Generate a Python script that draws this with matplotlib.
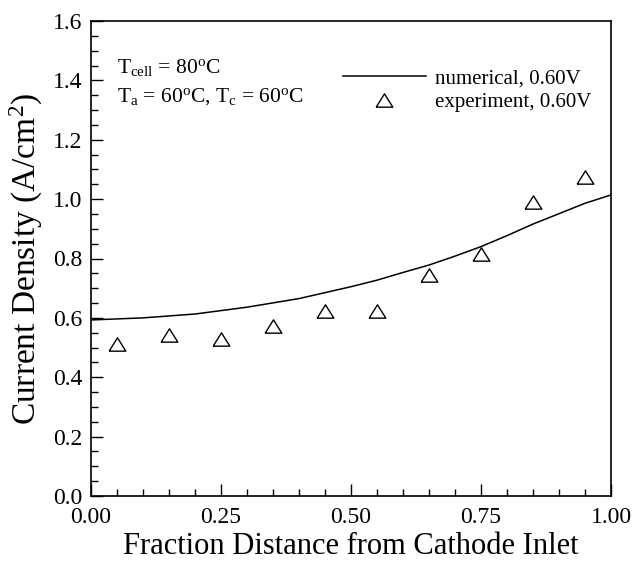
import matplotlib
matplotlib.use("Agg")
import matplotlib.pyplot as plt
from matplotlib.ticker import MultipleLocator

plt.rcParams['font.family'] = ['Liberation Serif', 'DejaVu Serif']
plt.rcParams['mathtext.fontset'] = 'custom'
plt.rcParams['mathtext.rm'] = 'Liberation Serif'
plt.rcParams['mathtext.it'] = 'Liberation Serif:italic'
plt.rcParams['mathtext.bf'] = 'Liberation Serif:bold'

# numerical curve
x_num = [0.0, 0.1, 0.2, 0.3, 0.4, 0.5, 0.55, 0.6, 0.65, 0.7, 0.75, 0.8, 0.85, 0.9, 0.95, 1.0]
y_num = [0.593, 0.600, 0.613, 0.636, 0.665, 0.705, 0.727, 0.753, 0.778, 0.808, 0.840, 0.877, 0.916, 0.951, 0.986, 1.014]
# experiment
x_exp = [0.05, 0.15, 0.25, 0.35, 0.45, 0.55, 0.65, 0.75, 0.85, 0.95]
y_exp = [0.513, 0.543, 0.530, 0.574, 0.622, 0.624, 0.744, 0.814, 0.989, 1.073]

xticks = [0.0, 0.25, 0.5, 0.75, 1.0]
xticklabels = ['0.00', '0.25', '0.50', '0.75', '1.00']
yticks = [0.0, 0.2, 0.4, 0.6, 0.8, 1.0, 1.2, 1.4, 1.6]

fig = plt.figure(figsize=(6.4, 5.69), dpi=100)
ax = fig.add_axes([91/640, 1 - 496/569, 520/640, 475/569])

tri = [(-1, -0.8), (1, -0.8), (0, 0.8), (-1, -0.8)]

ax.plot(x_num, y_num, color='black', lw=1.1, label='numerical, 0.60V')
ax.plot(x_exp, y_exp, linestyle='none', marker=tri, markersize=12,
        markerfacecolor='white', markeredgecolor='black', markeredgewidth=1.0,
        label='experiment, 0.60V')

ax.set_xlim(0, 1)
ax.set_ylim(0, 1.6)
ax.set_xticks(xticks)
ax.set_xticklabels(xticklabels)
ax.set_yticks(yticks)
ax.set_yticklabels([f'{v:.1f}' for v in yticks])
ax.xaxis.set_minor_locator(MultipleLocator(0.05))
ax.yaxis.set_minor_locator(MultipleLocator(0.05))
ax.tick_params(which='both', direction='in', labelsize=17, width=1.0)
ax.tick_params(which='major', length=8.5)
ax.tick_params(which='minor', length=5)
ax.tick_params(axis='x', pad=8)
ax.tick_params(axis='y', pad=6)
for s in ax.spines.values():
    s.set_linewidth(1.2)

ax.set_xlabel('Fraction Distance from Cathode Inlet', fontsize=22, labelpad=3)
ax.set_ylabel(r'Current Density (A/cm$^{\rm 2}$)', fontsize=24, labelpad=6)

ax.text(0.05, 0.903, r'T$_{\rm cell}$ = 80$^{\rm o}$C', transform=ax.transAxes,
        fontsize=15.5, ha='left', va='center')
ax.text(0.05, 0.842, r'T$_{\rm a}$ = 60$^{\rm o}$C, T$_{\rm c}$ = 60$^{\rm o}$C', transform=ax.transAxes,
        fontsize=15.5, ha='left', va='center')

leg = ax.legend(loc='center left', bbox_to_anchor=(0.4846, 0.854), frameon=False,
                fontsize=15, handlelength=3.97, handletextpad=0.43, labelspacing=0.21,
                borderaxespad=0.0, borderpad=0.0)

fig.savefig('out.png', dpi=100)
